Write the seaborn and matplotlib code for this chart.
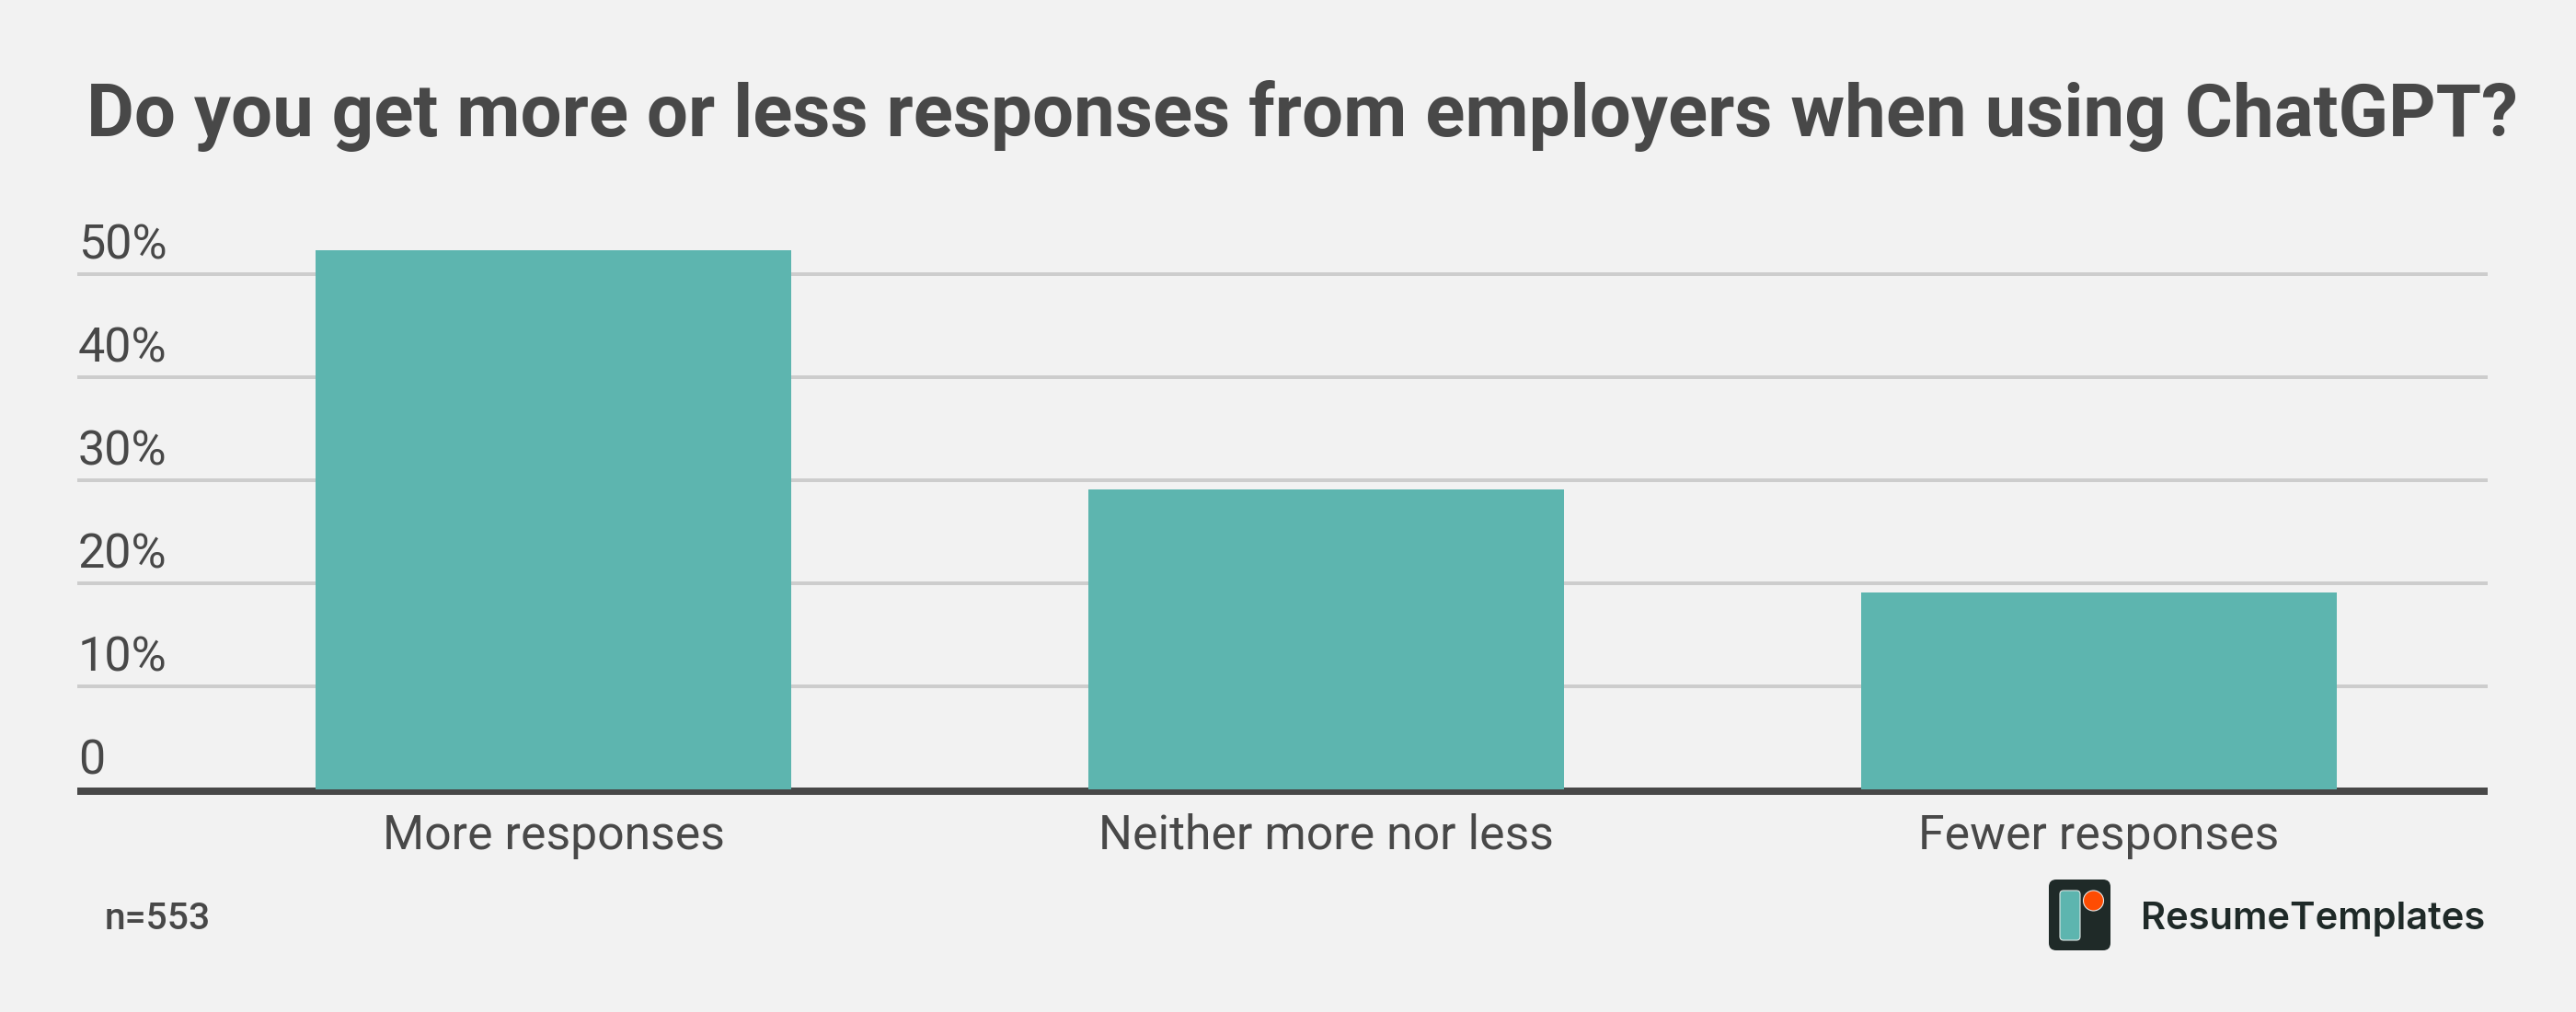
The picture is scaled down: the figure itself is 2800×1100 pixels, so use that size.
import matplotlib
matplotlib.use("Agg")
import matplotlib.pyplot as plt
import seaborn as sns
import pandas as pd
from matplotlib.patches import FancyBboxPatch, Circle
from matplotlib.transforms import Affine2D, ScaledTranslation

categories = ["More responses", "Neither more nor less", "Fewer responses"]
shares = [52.3, 29.1, 19.1]
y_ticks = [0, 10, 20, 30, 40, 50]
y_labels = ["0", "10%", "20%", "30%", "40%", "50%"]

title = "Do you get more or less responses from employers when using ChatGPT?"
note = "n=553"
brand = "ResumeTemplates"

W, H = 2800, 1100
BG = "#f2f2f2"
TEAL = "#5db5af"
TEXT = "#484848"
DARK = "#1f2a28"

sns.set_theme(style="whitegrid")
plt.rcParams["font.family"] = ["Roboto", "DejaVu Sans"]

df = pd.DataFrame({"answer": categories, "share": shares})

fig = plt.figure(figsize=(W / 100, H / 100), dpi=100, facecolor=BG)
# axes box in pixels: x 84-2704, zero line at y=858
ax = fig.add_axes([84 / W, 1 - 858 / H, 2620 / W, 608 / H], facecolor=BG)

sns.barplot(data=df, x="answer", y="share", color=TEAL, saturation=1, width=0.615, linewidth=0, ax=ax, zorder=3)
ax.set_xlim(-0.616, 2.503)
ax.set_ylim(0, 608 / 11.2)
ax.set_xlabel("")
ax.set_ylabel("")

ax.grid(axis="y", color="#cdcdcd", linewidth=2.88)
ax.grid(axis="x", visible=False)
ax.set_axisbelow(True)
for side in ["left", "right", "top"]:
    ax.spines[side].set_visible(False)
ax.spines["bottom"].set_color(TEXT)
ax.spines["bottom"].set_linewidth(5.76)
ax.spines["bottom"].set_capstyle("butt")
ax.spines["bottom"].set_position(("outward", 1.44))

ax.set_yticks(y_ticks)
ax.set_yticklabels(y_labels)
ax.tick_params(axis="y", length=0, pad=0, labelsize=37.5, labelcolor=TEXT)
ax.tick_params(axis="x", length=0, pad=17, labelsize=37.3, labelcolor=TEXT)
up = ScaledTranslation(1 / 100, 6 / 100, fig.dpi_scale_trans)
for lab in ax.get_yticklabels():
    lab.set_ha("left")
    lab.set_va("bottom")
    lab.set_transform(lab.get_transform() + up)

fig.text(0.5054, 1 - 148 / H, title, ha="center", va="baseline", fontsize=57.5, fontweight="bold", color=TEXT)
fig.text(114 / W, 1 - 1010 / H, note, ha="left", va="baseline", fontsize=29.4, fontweight="medium", color=TEXT)

# logo, placed in image pixels
px = Affine2D().scale(1 / W, -1 / H).translate(0, 1) + fig.transFigure
fig.add_artist(FancyBboxPatch((2233, 962), 55, 65, boxstyle="round,pad=6,rounding_size=8",
                              transform=px, facecolor=DARK, edgecolor="none"))
fig.add_artist(FancyBboxPatch((2242, 971), 16, 48, boxstyle="round,pad=3,rounding_size=4",
                              transform=px, facecolor=TEAL, edgecolor="#dfe8e6", linewidth=0.8))
fig.add_artist(Circle((2275.5, 979), 11, transform=px, facecolor="#fe4c02", edgecolor="#e8e8e8", linewidth=0.8))
fig.text(2327 / W, 1 - 1010 / H, brand, ha="left", va="baseline", fontsize=30, fontweight="semibold",
         family=["Inter", "DejaVu Sans"], color=DARK)

fig.savefig("out.png", dpi=100, facecolor=BG)
